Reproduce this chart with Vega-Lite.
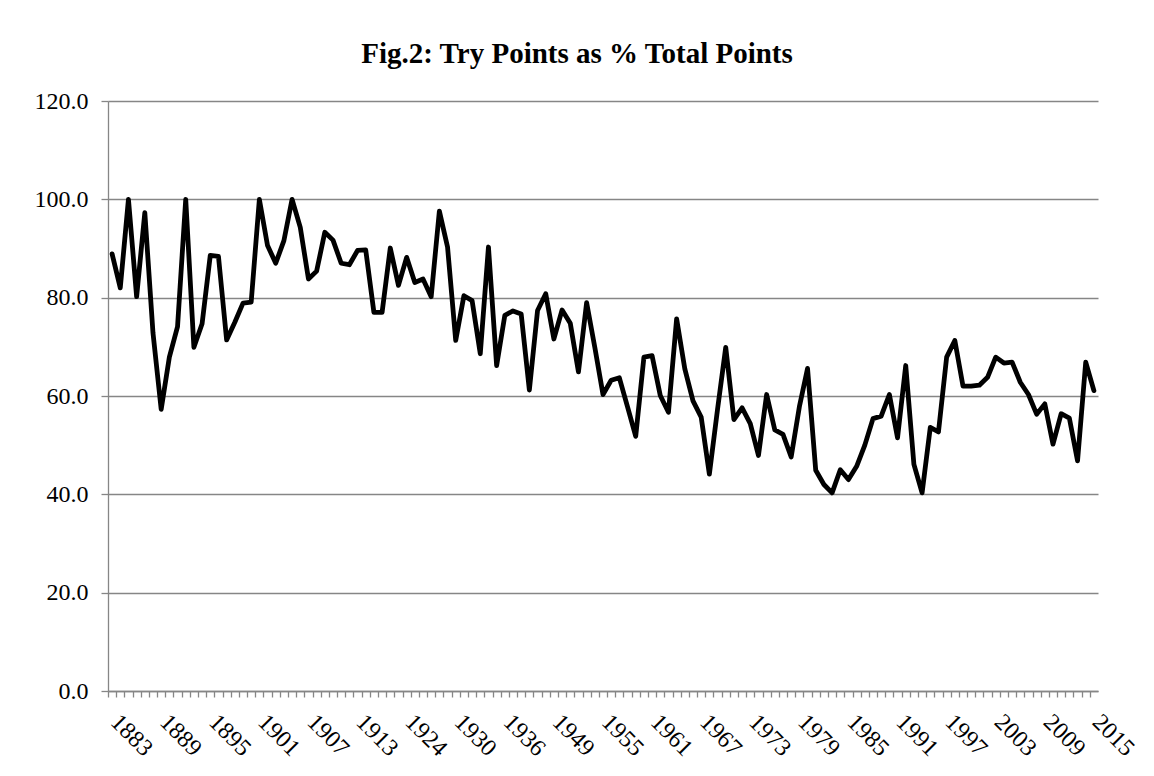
{
  "$schema": "https://vega.github.io/schema/vega-lite/v6.json",
  "width": 990,
  "height": 590,
  "autosize": {"type": "none"},
  "padding": {"left": 108, "top": 101, "right": 56, "bottom": 85},
  "background": "white",
  "title": {
    "text": "Fig.2: Try Points as % Total Points",
    "font": "Liberation Serif",
    "fontSize": 29,
    "fontWeight": "bold",
    "color": "#000000",
    "anchor": "middle",
    "dx": -26,
    "offset": 20
  },
  "config": {
    "view": {"stroke": null},
    "axis": {
      "labelFont": "Liberation Serif",
      "labelFontSize": 24,
      "labelColor": "#000000",
      "domainColor": "#868686",
      "tickColor": "#868686",
      "gridColor": "#868686",
      "domainWidth": 1.3,
      "tickWidth": 1.3,
      "gridWidth": 1.3,
      "title": null
    }
  },
  "data": {
    "values": [
      {"year": 1883, "pct": 88.9}, {"year": 1884, "pct": 82.0}, {"year": 1885, "pct": 100}, {"year": 1886, "pct": 80.2},
      {"year": 1887, "pct": 97.3}, {"year": 1888, "pct": 72.8}, {"year": 1889, "pct": 57.3}, {"year": 1890, "pct": 67.9},
      {"year": 1891, "pct": 74.1}, {"year": 1892, "pct": 100}, {"year": 1893, "pct": 69.9}, {"year": 1894, "pct": 74.7},
      {"year": 1895, "pct": 88.6}, {"year": 1896, "pct": 88.4}, {"year": 1897, "pct": 71.4}, {"year": 1898, "pct": 75.0},
      {"year": 1899, "pct": 78.9}, {"year": 1900, "pct": 79.1}, {"year": 1901, "pct": 100}, {"year": 1902, "pct": 90.6},
      {"year": 1903, "pct": 87.0}, {"year": 1904, "pct": 91.6}, {"year": 1905, "pct": 100}, {"year": 1906, "pct": 94.3},
      {"year": 1907, "pct": 83.8}, {"year": 1908, "pct": 85.4}, {"year": 1909, "pct": 93.3}, {"year": 1910, "pct": 91.7},
      {"year": 1911, "pct": 87.0}, {"year": 1912, "pct": 86.7}, {"year": 1913, "pct": 89.6}, {"year": 1914, "pct": 89.7},
      {"year": 1920, "pct": 77.0}, {"year": 1921, "pct": 77.0}, {"year": 1922, "pct": 90.1}, {"year": 1923, "pct": 82.5},
      {"year": 1924, "pct": 88.2}, {"year": 1925, "pct": 83.1}, {"year": 1926, "pct": 83.8}, {"year": 1927, "pct": 80.2},
      {"year": 1928, "pct": 97.6}, {"year": 1929, "pct": 90.3}, {"year": 1930, "pct": 71.3}, {"year": 1931, "pct": 80.4},
      {"year": 1932, "pct": 79.4}, {"year": 1933, "pct": 68.6}, {"year": 1934, "pct": 90.3}, {"year": 1935, "pct": 66.2},
      {"year": 1936, "pct": 76.4}, {"year": 1937, "pct": 77.3}, {"year": 1938, "pct": 76.7}, {"year": 1939, "pct": 61.2},
      {"year": 1947, "pct": 77.4}, {"year": 1948, "pct": 80.8}, {"year": 1949, "pct": 71.6}, {"year": 1950, "pct": 77.5},
      {"year": 1951, "pct": 74.8}, {"year": 1952, "pct": 64.9}, {"year": 1953, "pct": 79.0}, {"year": 1954, "pct": 69.9},
      {"year": 1955, "pct": 60.3}, {"year": 1956, "pct": 63.2}, {"year": 1957, "pct": 63.7}, {"year": 1958, "pct": 57.8},
      {"year": 1959, "pct": 51.8}, {"year": 1960, "pct": 67.9}, {"year": 1961, "pct": 68.2}, {"year": 1962, "pct": 60.1},
      {"year": 1963, "pct": 56.7}, {"year": 1964, "pct": 75.7}, {"year": 1965, "pct": 65.5}, {"year": 1966, "pct": 59.0},
      {"year": 1967, "pct": 55.7}, {"year": 1968, "pct": 44.1}, {"year": 1969, "pct": 57.3}, {"year": 1970, "pct": 69.9},
      {"year": 1971, "pct": 55.2}, {"year": 1972, "pct": 57.6}, {"year": 1973, "pct": 54.4}, {"year": 1974, "pct": 47.9},
      {"year": 1975, "pct": 60.3}, {"year": 1976, "pct": 53.1}, {"year": 1977, "pct": 52.2}, {"year": 1978, "pct": 47.6},
      {"year": 1979, "pct": 57.8}, {"year": 1980, "pct": 65.6}, {"year": 1981, "pct": 44.9}, {"year": 1982, "pct": 42.0},
      {"year": 1983, "pct": 40.3}, {"year": 1984, "pct": 45.0}, {"year": 1985, "pct": 43.0}, {"year": 1986, "pct": 45.7},
      {"year": 1987, "pct": 50.0}, {"year": 1988, "pct": 55.4}, {"year": 1989, "pct": 55.9}, {"year": 1990, "pct": 60.3},
      {"year": 1991, "pct": 51.5}, {"year": 1992, "pct": 66.2}, {"year": 1993, "pct": 46.1}, {"year": 1994, "pct": 40.3},
      {"year": 1995, "pct": 53.6}, {"year": 1996, "pct": 52.7}, {"year": 1997, "pct": 67.9}, {"year": 1998, "pct": 71.3},
      {"year": 1999, "pct": 62.0}, {"year": 2000, "pct": 62.0}, {"year": 2001, "pct": 62.2}, {"year": 2002, "pct": 63.8},
      {"year": 2003, "pct": 67.9}, {"year": 2004, "pct": 66.7}, {"year": 2005, "pct": 66.9}, {"year": 2006, "pct": 62.8},
      {"year": 2007, "pct": 60.3}, {"year": 2008, "pct": 56.3}, {"year": 2009, "pct": 58.4}, {"year": 2010, "pct": 50.2},
      {"year": 2011, "pct": 56.4}, {"year": 2012, "pct": 55.5}, {"year": 2013, "pct": 46.8}, {"year": 2014, "pct": 66.9},
      {"year": 2015, "pct": 61.1}
    ]
  },
  "mark": {"type": "line", "color": "#000000", "strokeWidth": 4.8, "strokeJoin": "round", "strokeCap": "round"},
  "encoding": {
    "x": {
      "field": "year",
      "type": "ordinal",
      "scale": {"type": "point", "padding": 0.5},
      "axis": {
        "grid": false,
        "tickSize": 6,
        "tickOffset": -4.09,
        "labelAngle": 45,
        "labelAlign": "left",
        "labelBaseline": "middle",
        "labelPadding": 21,
        "labelOffset": 6,
        "labelOverlap": false,
        "labelExpr": "indexof([1883,1889,1895,1901,1907,1913,1924,1930,1936,1949,1955,1961,1967,1973,1979,1985,1991,1997,2003,2009,2015], datum.value) >= 0 ? datum.label : ''"
      }
    },
    "y": {
      "field": "pct",
      "type": "quantitative",
      "scale": {"domain": [0, 120], "nice": false, "zero": true},
      "axis": {
        "values": [0, 20, 40, 60, 80, 100, 120],
        "format": ".1f",
        "grid": true,
        "tickSize": 7,
        "labelPadding": 13
      }
    }
  }
}
